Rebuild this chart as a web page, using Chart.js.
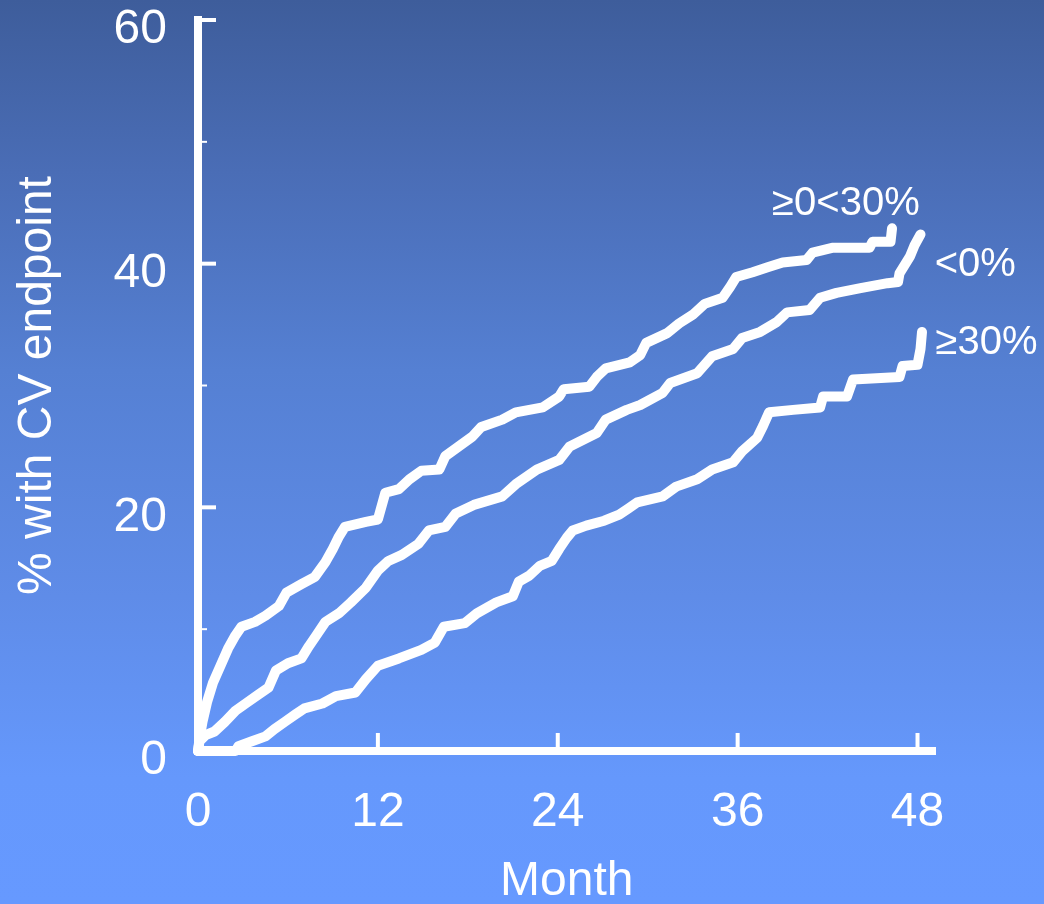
<!DOCTYPE html>
<html>
<head>
<meta charset="utf-8">
<script src="https://cdn.jsdelivr.net/npm/chart.js@4/dist/chart.umd.min.js"></script>
<style>
  html, body { margin: 0; padding: 0; overflow: hidden; background: #5078c8; }
  #wrap { width: 1044px; height: 904px; position: relative; }
  canvas { display: block; }
</style>
</head>
<body>
<div id="wrap"><canvas id="chart" width="1044" height="904"></canvas></div>
<script>
// Axis ticks
const monthTicks = [0, 12, 24, 36, 48];
const percentTicks = [0, 20, 40, 60];
const minorPercentTicks = [10, 30, 50];
const monthMinorTicks = [12, 24, 36, 48];

// Cumulative % with CV endpoint, by change group
const midMonths = [0, 0.1, 0.3, 0.6, 1.0, 1.5, 2.0, 2.5, 2.9, 3.8, 4.5, 5.4, 5.9, 6.9, 7.8, 8.5, 9.0, 9.4, 9.8, 11.2, 12.0, 12.5, 13.4, 14.1, 14.9, 16.1, 16.5, 17.4, 18.3, 18.9, 20.3, 21.2, 23.0, 24.1, 24.4, 26.1, 26.6, 27.2, 28.8, 29.5, 29.9, 31.3, 32.1, 33.0, 33.8, 35.0, 35.5, 35.9, 37.0, 38.0, 39.0, 40.6, 41.0, 42.3, 44.8, 45.0, 46.2, 46.3];
const midValues = [0, 1.0, 2.4, 4.0, 5.6, 7.0, 8.4, 9.5, 10.2, 10.6, 11.1, 11.9, 13.0, 13.7, 14.3, 15.5, 16.6, 17.6, 18.4, 18.8, 19.0, 21.2, 21.5, 22.3, 23.0, 23.1, 24.2, 25.0, 25.8, 26.6, 27.2, 27.8, 28.2, 29.1, 29.7, 29.9, 30.7, 31.4, 31.9, 32.5, 33.5, 34.3, 35.1, 35.8, 36.7, 37.2, 38.1, 38.9, 39.3, 39.7, 40.1, 40.3, 40.9, 41.3, 41.3, 41.8, 41.8, 42.9];

const negMonths = [0, 0.1, 0.5, 1.1, 1.8, 2.5, 3.3, 4.0, 4.7, 5.2, 6.0, 6.9, 7.4, 7.9, 8.5, 9.4, 10.2, 11.2, 12.0, 12.7, 13.6, 14.7, 15.4, 16.5, 17.2, 18.4, 20.3, 21.2, 22.6, 24.1, 24.8, 26.6, 27.2, 28.6, 29.5, 31.0, 31.5, 33.3, 34.3, 35.7, 36.3, 37.5, 38.6, 39.3, 40.8, 41.5, 42.6, 44.2, 46.0, 46.7, 46.8, 47.5, 47.8, 48.2];
const negValues = [0, 0.8, 1.3, 1.6, 2.4, 3.3, 4.0, 4.6, 5.2, 6.6, 7.2, 7.6, 8.6, 9.5, 10.6, 11.3, 12.2, 13.4, 14.8, 15.6, 16.1, 17.0, 18.1, 18.4, 19.5, 20.2, 20.9, 21.9, 23.1, 23.9, 25.0, 26.1, 27.2, 28.0, 28.4, 29.4, 30.2, 31.0, 32.4, 33.0, 33.9, 34.4, 35.2, 36.0, 36.2, 37.2, 37.6, 38.0, 38.4, 38.5, 39.2, 40.6, 41.5, 42.4];

const highMonths = [0, 2.5, 2.7, 3.6, 4.5, 5.1, 5.8, 6.5, 7.1, 8.3, 9.2, 10.5, 11.2, 12.0, 13.4, 14.9, 15.8, 16.4, 17.8, 18.6, 19.9, 21.0, 21.4, 22.1, 22.8, 23.6, 24.1, 24.6, 25.0, 25.9, 27.1, 28.1, 28.7, 29.3, 31.0, 31.9, 33.3, 34.3, 35.7, 36.3, 37.3, 37.7, 38.1, 39.7, 41.5, 41.7, 43.3, 43.7, 46.8, 47.0, 48.0, 48.2, 48.3];
const highValues = [0, 0, 0.4, 0.8, 1.2, 1.8, 2.4, 3.0, 3.5, 3.9, 4.5, 4.8, 5.9, 7.0, 7.6, 8.3, 8.9, 10.2, 10.5, 11.3, 12.2, 12.7, 13.9, 14.4, 15.2, 15.6, 16.6, 17.5, 18.1, 18.5, 18.9, 19.4, 19.9, 20.4, 20.9, 21.7, 22.3, 23.1, 23.7, 24.6, 25.7, 26.7, 27.8, 28.0, 28.2, 29.1, 29.1, 30.5, 30.7, 31.6, 31.7, 33.0, 34.4];

const seriesNames = ['\u22650<30%', '<0%', '\u226530%'];
// Where each curve's name is written, in axis units (month, %)
const nameAnchors = [
  { month: 38.3, pct: 44.0 },
  { month: 49.15, pct: 39.0 },
  { month: 49.2, pct: 32.6 }
];

const FONT = "'Liberation Sans', Arial, Helvetica, sans-serif";
const WHITE = '#ffffff';

function toPoints(xs, ys) {
  return xs.map((x, i) => ({ x: x, y: ys[i] }));
}

const backdrop = {
  id: 'backdrop',
  beforeDraw(chart) {
    const { ctx, width, height } = chart;
    const g = ctx.createLinearGradient(0, 0, 0, height);
    g.addColorStop(0.00, '#3e5d9b');
    g.addColorStop(0.19, '#4a6db6');
    g.addColorStop(0.41, '#5580d3');
    g.addColorStop(0.66, '#5f8ce8');
    g.addColorStop(0.86, '#6598fc');
    g.addColorStop(1.00, '#6699ff');
    ctx.save();
    ctx.fillStyle = g;
    ctx.fillRect(0, 0, width, height);
    ctx.restore();
  }
};

// Short inward tick marks on both axes
const innerTicks = {
  id: 'innerTicks',
  beforeDatasetsDraw(chart) {
    const { ctx, scales: { x, y } } = chart;
    const ax = x.left + 4;
    const ay = y.bottom - 4;
    ctx.save();
    ctx.strokeStyle = WHITE;
    ctx.lineCap = 'butt';
    ctx.lineWidth = 4;
    percentTicks.slice(1).forEach(v => {
      const py = y.getPixelForValue(v);
      ctx.beginPath(); ctx.moveTo(ax, py); ctx.lineTo(ax + 14, py); ctx.stroke();
    });
    ctx.lineWidth = 2;
    minorPercentTicks.forEach(v => {
      const py = y.getPixelForValue(v);
      ctx.beginPath(); ctx.moveTo(ax, py); ctx.lineTo(ax + 5, py); ctx.stroke();
    });
    ctx.lineWidth = 4;
    monthMinorTicks.forEach(m => {
      const px = x.getPixelForValue(m);
      ctx.beginPath(); ctx.moveTo(px, ay); ctx.lineTo(px, ay - 14); ctx.stroke();
    });
    ctx.restore();
  }
};

const curveNames = {
  id: 'curveNames',
  afterDatasetsDraw(chart) {
    const { ctx, scales: { x, y } } = chart;
    ctx.save();
    ctx.fillStyle = WHITE;
    ctx.font = '40px ' + FONT;
    ctx.textAlign = 'left';
    ctx.textBaseline = 'alphabetic';
    seriesNames.forEach((name, i) => {
      const a = nameAnchors[i];
      ctx.fillText(name, x.getPixelForValue(a.month), y.getPixelForValue(a.pct));
    });
    ctx.restore();
  }
};

const lineStyle = {
  borderColor: WHITE,
  borderWidth: 10,
  pointRadius: 0,
  pointHoverRadius: 0,
  tension: 0,
  fill: false,
  borderCapStyle: 'round',
  borderJoinStyle: 'round',
  clip: false
};

new Chart(document.getElementById('chart'), {
  type: 'line',
  data: {
    datasets: [
      Object.assign({ label: seriesNames[0], data: toPoints(midMonths, midValues) }, lineStyle),
      Object.assign({ label: seriesNames[1], data: toPoints(negMonths, negValues) }, lineStyle),
      Object.assign({ label: seriesNames[2], data: toPoints(highMonths, highValues) }, lineStyle)
    ]
  },
  options: {
    responsive: false,
    animation: false,
    devicePixelRatio: 1,
    events: [],
    layout: { padding: { top: 20, right: 108.5, left: 0, bottom: 0 } },
    plugins: { legend: { display: false }, tooltip: { enabled: false } },
    scales: {
      x: {
        type: 'linear',
        min: 0,
        max: 49.2,
        afterBuildTicks: s => { s.ticks = monthTicks.map(v => ({ value: v })); },
        afterFit: s => { s.height = 153; s.paddingLeft = 0; s.paddingRight = 0; },
        grid: { display: false, drawTicks: false },
        border: { display: true, color: WHITE, width: 8 },
        ticks: {
          color: WHITE, autoSkip: false, maxRotation: 0, padding: 38,
          font: { family: FONT, size: 48, lineHeight: 1 }
        },
        title: {
          display: true, text: 'Month', color: WHITE,
          font: { family: FONT, size: 48, lineHeight: 1 },
          padding: { top: 0, bottom: -2 }
        }
      },
      y: {
        type: 'linear',
        min: 0,
        max: 60,
        afterBuildTicks: s => { s.ticks = percentTicks.map(v => ({ value: v })); },
        afterFit: s => { s.width = 198; s.paddingTop = 0; s.paddingBottom = 0; },
        grid: { display: false, drawTicks: false },
        border: { display: true, color: WHITE, width: 8 },
        ticks: {
          color: WHITE, padding: 31, labelOffset: 10,
          font: { family: FONT, size: 48, lineHeight: 1 }
        },
        title: {
          display: true, text: '% with CV endpoint', color: WHITE,
          font: { family: FONT, size: 48, lineHeight: 1 },
          padding: { top: 14, bottom: 0 }
        }
      }
    }
  },
  plugins: [backdrop, innerTicks, curveNames]
});
</script>
</body>
</html>
